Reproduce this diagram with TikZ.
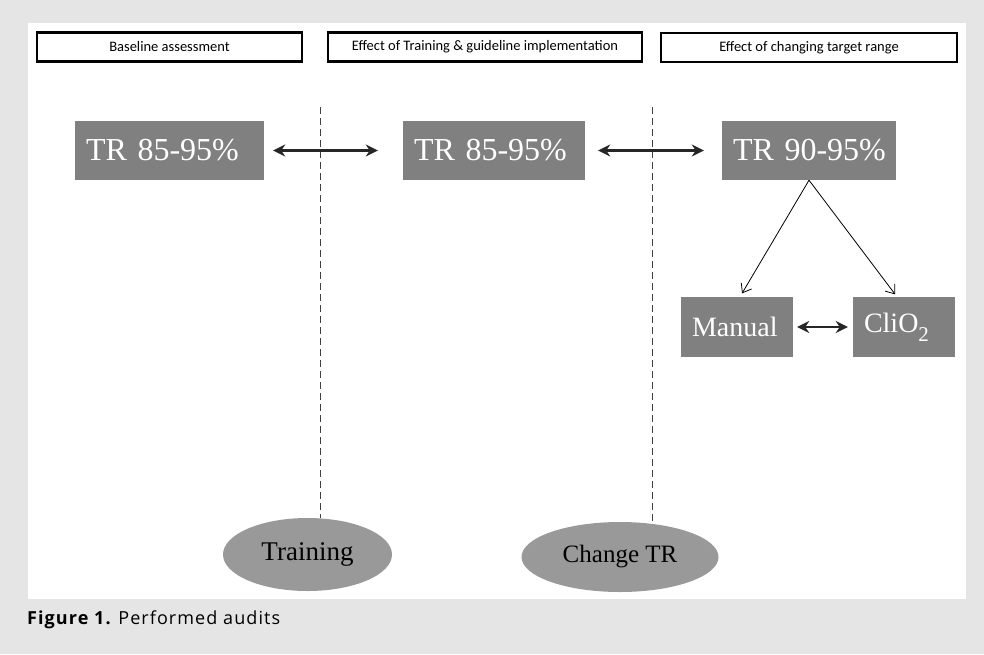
\documentclass[tikz,border=0pt]{standalone}
\usepackage{fontspec}
\setmainfont{Liberation Serif}
\newfontfamily\calibri{Carlito}
\newfontfamily\captionfont[LetterSpace=6]{Open Sans}
\usetikzlibrary{arrows.meta,shapes.geometric}

\tikzset{
  phase/.style={draw, line width=2.4pt, minimum width=#1, minimum height=29pt, inner sep=0pt,
    font=\calibri\fontsize{14.5}{16}\selectfont},
  audit/.style={fill=black!50, text=white, inner xsep=11pt, inner ysep=0pt, minimum height=59pt,
    align=left, font=\fontsize{32}{36}\selectfont},
  method/.style={audit, minimum height=60pt, font=\fontsize{28}{32}\selectfont},
  event/.style={ellipse, fill=black!40, inner sep=0pt, font=\fontsize{27}{30}\selectfont},
  link/.style={{Stealth[length=12pt,width=12pt]}-{Stealth[length=12pt,width=12pt]}, line width=2.8pt, black!85},
  split/.style={-{Straight Barb[length=8pt,width=12pt]}, line width=0.8pt},
  divider/.style={dash pattern=on 7pt off 4pt, black!75, line width=1pt}
}

\begin{document}
\begin{tikzpicture}[x=1pt, y=-1pt]
        % Page and panel
        \fill[black!10] (0,0) rectangle (984,654);
        \fill[white] (28,23) rectangle (966,599);

        % Study phases
        \node[phase=265pt] (base) at (169.5,47) {Baseline assessment};
        \node[phase=314pt] (train-eff) at (485,47) {Effect of Training \& guideline implementation};
        \node[phase=296pt] (range-eff) at (809,47.5) {Effect of changing target range};

        % Audits
        \node[audit, text width=167pt] (tr1) at (169.5,150.5) {\mbox{TR 85-95\%}};
        \node[audit, text width=160pt] (tr2) at (494,150.5) {\mbox{TR 85-95\%}};
        \node[audit, text width=152pt] (tr3) at (809,150.5) {\mbox{TR 90-95\%}};
        \node[method, text width=90pt] (manual) at (737,327) {Manual};
        \node[method, text width=80pt] (clio) at (904,327) {\mbox{CliO\raisebox{-0.32em}{\fontsize{21}{21}\selectfont 2}}};

        % Interventions
        \node[event, minimum width=169pt, minimum height=73pt] (training) at (307.5,554.5) {Training};
        \node[event, minimum width=197pt, minimum height=70pt, font=\fontsize{25}{28}\selectfont] (change) at (620,557) {Change TR};

        \coordinate (cut1) at (320,107);
        \coordinate (cut2) at (652,107);
        \draw[divider] (cut1) -- (cut1 |- training.north);
        \draw[divider] (cut2) -- (cut2 |- change.north);

        \draw[link, shorten <=9pt, shorten >=25pt] (tr1.east) -- (tr2.west);
        \draw[link, shorten <=13pt, shorten >=18pt] (tr2.east) -- (tr3.west);
        \draw[link, shorten <=4pt, shorten >=5pt] (manual.east) -- (clio.west);
        \draw[split, shorten >=4pt] (tr3.south) -- ([xshift=3pt]manual.north);
        \draw[split, shorten >=3pt] (tr3.south) -- ([xshift=-7pt]clio.north);

        % Caption
        \node[anchor=base west, inner sep=0pt, font=\captionfont\fontsize{18}{20}\selectfont] (caption) at (27,624)
            {\bfseries Figure 1.\mdseries{} Performed audits};
    \end{tikzpicture}
\end{document}
